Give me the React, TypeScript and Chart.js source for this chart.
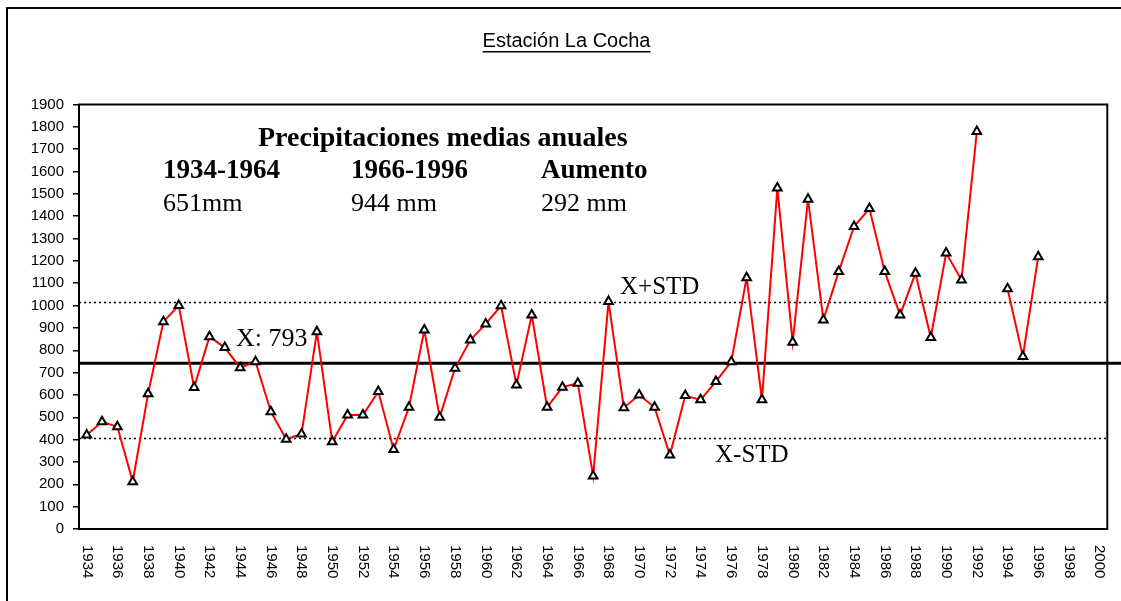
import React, { useEffect, useRef } from 'react';
import { Chart, registerables } from 'chart.js';

Chart.register(...registerables);

const years: string[] = [
  '1934', '1935', '1936', '1937', '1938', '1939', '1940', '1941', '1942', '1943',
  '1944', '1945', '1946', '1947', '1948', '1949', '1950', '1951', '1952', '1953',
  '1954', '1955', '1956', '1957', '1958', '1959', '1960', '1961', '1962', '1963',
  '1964', '1965', '1966', '1967', '1968', '1969', '1970', '1971', '1972', '1973',
  '1974', '1975', '1976', '1977', '1978', '1979', '1980', '1981', '1982', '1983',
  '1984', '1985', '1986', '1987', '1988', '1989', '1990', '1991', '1992', '1993',
  '1994', '1995', '1996', '1997', '1998', '1999', '2000',
];

const precipitation: (number | null)[] = [
  421, 480, 458, 212, 605, 928, 1000, 633, 861, 812,
  722, 749, 525, 402, 425, 883, 391, 510, 510, 615,
  356, 545, 891, 500, 720, 846, 918, 999, 645, 958,
  545, 635, 652, 237, 1018, 543, 600, 545, 331, 597,
  578, 660, 749, 1125, 578, 1526, 836, 1476, 936, 1152,
  1354, 1434, 1152, 958, 1145, 857, 1235, 1115, 1779, null,
  1075, 772, 1219, null, null, null, null,
];

const xTickLabels: string[] = [
  '1934', '1936', '1938', '1940', '1942', '1944', '1946', '1948', '1950', '1952',
  '1954', '1956', '1958', '1960', '1962', '1964', '1966', '1968', '1970', '1972',
  '1974', '1976', '1978', '1980', '1982', '1984', '1986', '1988', '1990', '1992',
  '1994', '1996', '1998', '2000',
];

const meanLine = 742;
const upperLine = 1015;
const lowerLine = 406;

const titleText = 'Estación La Cocha';
const boxHeading = 'Precipitaciones medias anuales';
const periodLabels = ['1934-1964', '1966-1996', 'Aumento'];
const periodValues = ['651mm', '944 mm', '292 mm'];
const meanLabel = 'X: 793';
const upperLabel = 'X+STD';
const lowerLabel = 'X-STD';

const SERIF = '"Liberation Serif", "Times New Roman", serif';
const SANS = '"Liberation Sans", Arial, sans-serif';

const decorPlugin = {
  id: 'decor',
  beforeDatasetsDraw(chart: any) {
    const { ctx, chartArea, scales } = chart;
    const y = scales.y;
    ctx.save();
    ctx.strokeStyle = '#000';
    ctx.lineWidth = 1.5;
    ctx.setLineDash([2, 3]);
    [upperLine, lowerLine].forEach((v) => {
      const py = Math.round(y.getPixelForValue(v)) + 0.5;
      ctx.beginPath();
      ctx.moveTo(chartArea.left, py);
      ctx.lineTo(chartArea.right, py);
      ctx.stroke();
    });
    ctx.setLineDash([]);
    const my = y.getPixelForValue(meanLine);
    ctx.lineWidth = 3;
    ctx.beginPath();
    ctx.moveTo(chartArea.left, my);
    ctx.lineTo(chart.width, my);
    ctx.stroke();
    ctx.restore();
  },
  afterDraw(chart: any) {
    const { ctx, chartArea, scales } = chart;
    const x = scales.x;
    ctx.save();
    ctx.strokeStyle = '#000';
    ctx.lineWidth = 2;
    ctx.beginPath();
    ctx.moveTo(7, chart.height + 5);
    ctx.lineTo(7, 8);
    ctx.lineTo(chart.width + 5, 8);
    ctx.stroke();
    ctx.strokeRect(chartArea.left, chartArea.top, chartArea.right - chartArea.left, chartArea.bottom - chartArea.top);

    ctx.fillStyle = '#000';
    ctx.font = `20px ${SANS}`;
    ctx.textAlign = 'center';
    ctx.textBaseline = 'middle';
    const tx = 566.5;
    ctx.fillText(titleText, tx, 41);
    const tw = ctx.measureText(titleText).width;
    ctx.fillRect(tx - tw / 2, 51, tw, 1.5);

    ctx.textAlign = 'left';
    ctx.font = `bold 28px ${SERIF}`;
    ctx.fillText(boxHeading, 258, 139);
    ctx.font = `bold 27px ${SERIF}`;
    const cols = [163, 351, 541];
    periodLabels.forEach((t, i) => ctx.fillText(t, cols[i], 171));
    ctx.font = `26px ${SERIF}`;
    periodValues.forEach((t, i) => ctx.fillText(t, cols[i], 204));
    ctx.fillText(meanLabel, 236, 339);
    ctx.font = `25px ${SERIF}`;
    ctx.fillText(upperLabel, 620, 287);
    ctx.fillText(lowerLabel, 715, 455);

    ctx.font = `15px ${SANS}`;
    ctx.textBaseline = 'middle';
    ctx.textAlign = 'left';
    xTickLabels.forEach((lab) => {
      const idx = years.indexOf(lab);
      const px = x.getPixelForValue(idx);
      ctx.save();
      ctx.translate(px, chartArea.bottom + 16);
      ctx.rotate(Math.PI / 2);
      ctx.fillText(lab, 0, 0);
      ctx.restore();
    });
    ctx.restore();
  },
};

export default function App() {
  const canvasRef = useRef<HTMLCanvasElement | null>(null);

  useEffect(() => {
    if (!canvasRef.current) return;
    const chart = new Chart(canvasRef.current, {
      type: 'line',
      data: {
        labels: years,
        datasets: [
          {
            data: precipitation,
            borderColor: '#ff0000',
            borderWidth: 2,
            pointStyle: 'triangle',
            pointRadius: 5,
            pointBorderWidth: 2,
            pointBorderColor: '#000',
            pointBackgroundColor: '#fff',
            spanGaps: false,
            tension: 0,
          },
        ],
      },
      options: {
        animation: false,
        responsive: false,
        layout: { padding: { top: 104.5, right: 13.7, bottom: 72, left: 0 } },
        plugins: {
          legend: { display: false },
          tooltip: { enabled: false },
          title: { display: false },
        },
        scales: {
          x: {
            type: 'category',
            display: false,
            offset: true,
          },
          y: {
            min: 0,
            max: 1900,
            afterFit: (scale: any) => {
              scale.width = 79;
            },
            ticks: {
              stepSize: 100,
              autoSkip: false,
              color: '#000',
              padding: 9,
              font: { family: SANS, size: 15 },
              callback: (v: any) => String(v),
            },
            grid: {
              drawOnChartArea: false,
              drawTicks: true,
              tickLength: 6,
              color: '#000',
              lineWidth: 1.5,
            },
            border: { display: true, color: '#000', width: 2 },
          },
        },
      },
      plugins: [decorPlugin],
    });
    return () => chart.destroy();
  }, []);

  return (
    <div style={{ position: 'fixed', left: 0, top: 0, width: 1121, height: 601, background: '#fff' }}>
      <canvas ref={canvasRef} width={1121} height={601} style={{ display: 'block' }} />
    </div>
  );
}
